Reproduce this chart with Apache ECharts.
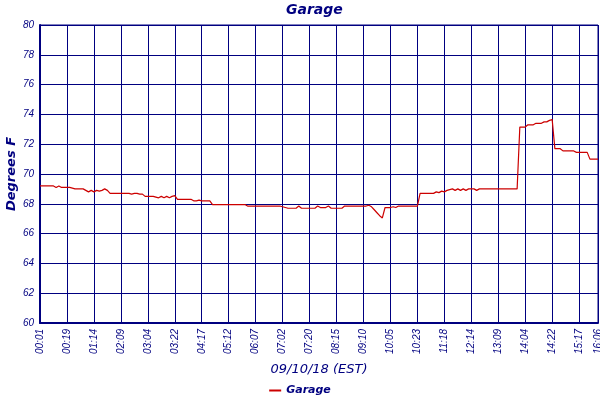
<!DOCTYPE html>
<html>
<head>
<meta charset="utf-8">
<script src="https://cdn.jsdelivr.net/npm/echarts@6/dist/echarts.min.js"></script>
<style>
  html, body { margin: 0; padding: 0; background: #fff; }
  #main { width: 600px; height: 400px; }
</style>
</head>
<body>
<div id="main"></div>
<script>
// tick labels shown every 10 samples, plus the last sample
var tickLabels = ['00:01', '00:19', '01:14', '02:09', '03:04', '03:22', '04:17', '05:12', '06:07', '07:02', '07:20',
  '08:15', '09:10', '10:05', '10:23', '11:18', '12:14', '13:09', '14:04', '14:22', '15:17', '16:06'];

// garage temperature, degrees F, one value per sample
var garage = [
  69.2, 69.2, 69.2, 69.2, 69.2, 69.2, 69.1, 69.2, 69.1, 69.1,
  69.1, 69.1, 69.05, 69.0, 69.0, 69.0, 69.0, 68.9, 68.8, 68.9,
  68.8, 68.9, 68.85, 68.9, 69.0, 68.9, 68.7, 68.7, 68.7, 68.7,
  68.7, 68.7, 68.7, 68.7, 68.65, 68.7, 68.7, 68.65, 68.65, 68.5,
  68.5, 68.5, 68.5, 68.45, 68.4, 68.5, 68.4, 68.5, 68.4, 68.5,
  68.55, 68.3, 68.3, 68.3, 68.3, 68.3, 68.3, 68.2, 68.2, 68.25,
  68.2, 68.2, 68.2, 68.2, 67.95, 67.95, 67.95, 67.95, 67.95, 67.95,
  67.95, 67.95, 67.95, 67.95, 67.95, 67.95, 67.95, 67.85, 67.85, 67.85,
  67.85, 67.85, 67.85, 67.85, 67.85, 67.85, 67.85, 67.85, 67.85, 67.85,
  67.8, 67.75, 67.7, 67.7, 67.7, 67.7, 67.85, 67.7, 67.7, 67.7,
  67.7, 67.7, 67.7, 67.85, 67.75, 67.75, 67.75, 67.85, 67.7, 67.7,
  67.7, 67.7, 67.7, 67.85, 67.85, 67.85, 67.85, 67.85, 67.85, 67.85,
  67.85, 67.85, 67.9, 67.8, 67.6, 67.4, 67.2, 67.05, 67.75, 67.75,
  67.75, 67.8, 67.75, 67.85, 67.85, 67.85, 67.85, 67.85, 67.85, 67.85,
  67.85, 68.7, 68.7, 68.7, 68.7, 68.7, 68.7, 68.8, 68.75, 68.85,
  68.8, 68.9, 68.95, 69.0, 68.9, 69.0, 68.9, 69.0, 68.9, 69.0,
  69.0, 69.0, 68.9, 69.0, 69.0, 69.0, 69.0, 69.0, 69.0, 69.0,
  69.0, 69.0, 69.0, 69.0, 69.0, 69.0, 69.0, 69.0, 73.15, 73.15,
  73.15, 73.3, 73.3, 73.3, 73.4, 73.4, 73.4, 73.5, 73.5, 73.6,
  73.65, 71.7, 71.7, 71.7, 71.55, 71.55, 71.55, 71.55, 71.55, 71.45,
  71.45, 71.45, 71.45, 71.45, 71.0, 71.0, 71.0, 71.0
];

var yTicks = { min: 60, max: 80, step: 2 };

var navy = '#000080';
var last = garage.length - 1;
var categories = garage.map(function (v, i) { return String(i); });

function isTick(i) { return i % 10 === 0 || i === last; }

var myChart = echarts.init(document.getElementById('main'));

var option = {
  backgroundColor: '#fff',
  animation: false,
  title: {
    text: 'Garage',
    left: 286,
    top: 0,
    padding: [3, 0, 0, 0],
    textStyle: { color: navy, fontFamily: 'DejaVu Sans', fontStyle: 'italic', fontWeight: 'bold', fontSize: 14 }
  },
  legend: {
    data: ['Garage'],
    top: 380,
    left: 'center',
    icon: 'rect',
    itemWidth: 12,
    itemHeight: 2,
    itemGap: 4,
    textStyle: { color: navy, fontFamily: 'DejaVu Sans', fontStyle: 'italic', fontWeight: 'bold', fontSize: 11 }
  },
  grid: {
    left: 40, right: 2, top: 25, bottom: 77,
    outerBoundsMode: 'none',
    containLabel: false,
    show: true, borderColor: navy, borderWidth: 1
  },
  xAxis: {
    type: 'category',
    boundaryGap: false,
    data: categories,
    name: '09/10/18 (EST)',
    nameLocation: 'middle',
    nameGap: 40,
    nameTextStyle: { color: navy, fontFamily: 'DejaVu Sans', fontStyle: 'italic', fontSize: 13 },
    axisLine: { lineStyle: { color: navy, width: 2 } },
    axisTick: { show: false },
    axisLabel: {
      rotate: 90,
      margin: 6,
      interval: function (i) { return isTick(i); },
      formatter: function (v, i) { return i === last ? tickLabels[tickLabels.length - 1] : tickLabels[i / 10]; },
      color: navy, fontFamily: 'Liberation Sans', fontStyle: 'italic', fontSize: 10
    },
    splitLine: {
      show: true,
      interval: function (i) { return isTick(i); },
      lineStyle: { color: navy, width: 1 }
    }
  },
  yAxis: {
    type: 'value',
    min: yTicks.min,
    max: yTicks.max,
    interval: yTicks.step,
    name: 'Degrees F',
    nameLocation: 'middle',
    nameGap: 22,
    nameMoveOverlap: false,
    nameTextStyle: { color: navy, fontFamily: 'DejaVu Sans', fontStyle: 'italic', fontWeight: 'bold', fontSize: 13 },
    axisLine: { show: true, lineStyle: { color: navy, width: 2 } },
    axisTick: { show: false },
    axisLabel: { margin: 6, color: navy, fontFamily: 'Liberation Sans', fontStyle: 'italic', fontSize: 10 },
    splitLine: { show: true, lineStyle: { color: navy, width: 1 } }
  },
  series: [
    {
      name: 'Garage',
      type: 'line',
      data: garage,
      showSymbol: false,
      color: '#cc0000',
      lineStyle: { color: '#cc0000', width: 1.2 }
    }
  ]
};

myChart.setOption(option);
</script>
</body>
</html>
